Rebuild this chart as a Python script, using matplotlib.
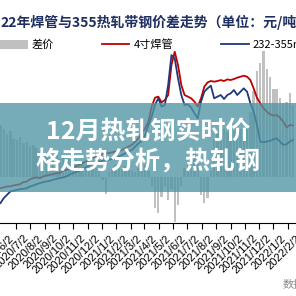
import matplotlib
matplotlib.use("Agg")
import matplotlib.pyplot as plt
import pandas as pd
from matplotlib.patches import Rectangle

plt.rcParams['font.family'] = ['Noto Sans CJK SC', 'DejaVu Sans']

# ====== DATA (weekly) ======
weeks = pd.date_range("2020-04-30", periods=90, freq="7D")

# 4寸焊管 price
weld = [3720, 3735, 3756, 3756, 3777, 3790, 3804, 3846, 3860, 3908,
        3930, 3943, 3930, 3964, 3985, 3999, 4012, 4033, 4033, 4082,
        4102, 4123, 4137, 4172, 4206, 4241, 4276, 4311, 4345, 4380,
        4415, 4428, 4449, 4449, 4470, 4484, 4498, 4519, 4553, 4588,
        4622, 4692, 4761, 4865, 4969, 5108, 5420, 5607, 5628, 5510,
        5558, 5662, 6286, 6564, 6286, 5870, 5662, 5628, 5593, 5524,
        5420, 5593, 5836, 5926, 5954, 5940, 5954, 5974, 5954, 5988,
        5974, 5995, 6023, 6044, 6064, 6044, 5974, 5801, 5607, 5489,
        5385, 5316, 5260, 5233, 5246, 5191, 5108, 4983, 5038, 5025]

# 232-355mm strip price
strip = [3409, 3513, 3582, 3652, 3666, 3686, 3700, 3707, 3721, 3756,
         3777, 3804, 3825, 3846, 3860, 3874, 3895, 3915, 3930, 3943,
         3964, 3999, 4033, 4054, 4082, 4123, 4151, 4193, 4220, 4262,
         4276, 4290, 4311, 4311, 4331, 4345, 4380, 4415, 4449, 4484,
         4519, 4588, 4657, 4706, 4830, 5038, 5212, 5454, 5593, 5420,
         5454, 5870, 6494, 6425, 6009, 5662, 5454, 5468, 5399, 5281,
         5177, 5524, 5732, 5801, 5857, 5593, 5628, 5662, 5579, 5662,
         5697, 5766, 5662, 5732, 5801, 5732, 5489, 5316, 5038, 4692,
         4678, 4692, 4706, 4740, 4761, 4692, 4622, 4636, 4692, 4727]

# 差价
spread = [340, 310, 280, 300, 250, 240, 260, 220, 230, 200,
          210, 190, 170, 180, 150, 160, 140, 150, 120, 130,
          140, 120, 100, 110, 90, 100, 80, 110, 90, 60,
          40, -20, -110, 30, 60, 80, 60, 50, 70, 60,
          40, 30, 60, 90, 80, 40, -60, -200, -236, -130,
          -60, -150, -80, -290, -180, -60, 60, 100, 120, 150,
          120, -120, -169, -137, 40, 250, 300, 280, 310, 290,
          260, 300, 330, 310, 290, 320, 420, 560, 690, 740,
          820, 700, 650, 570, 575, 515, 480, 490, 545, 470]

tick_labels = ["2020/6/2", "2020/7/2", "2020/8/2", "2020/9/2", "2020/10/2",
               "2020/11/2", "2020/12/2", "2021/1/2", "2021/2/2", "2021/3/2",
               "2021/4/2", "2021/5/2", "2021/6/2", "2021/7/2", "2021/8/2",
               "2021/9/2", "2021/10/2", "2021/11/2", "2021/12/2", "2022/1/2",
               "2022/2/2"]

title = "22年焊管与355热轧带钢价差走势（单位：元/吨）"
banner = ["12月热轧钢实时价", "格走势分析，热轧钢"]

# ====== CHART ======
fig = plt.figure(figsize=(2.96, 2.96), dpi=100)
ax = fig.add_axes([0, 0.2476, 1.06, 0.5834])  # runs past the right edge (cropped look)

bars = ax.bar(weeks, spread, width=5, color="#c0c0c0", label="差价")
ax.set_ylim(-297, 825)

ax2 = ax.twinx()
l1, = ax2.plot(weeks, weld, color="#c00000", lw=1.3, label="4寸焊管")
l2, = ax2.plot(weeks, strip, color="#1f3a7a", lw=1.3, label="232-355mm")
ax2.set_ylim(3000, 6600)

ax.set_xlim(pd.Timestamp("2020-04-29"), pd.Timestamp("2022-02-26"))
ax.set_xticks(pd.to_datetime(tick_labels, format="%Y/%m/%d"))
ax.set_xticklabels(tick_labels, rotation=45, ha="right", fontsize=8,
                   family=["Liberation Sans", "DejaVu Sans"])
ax.tick_params(axis="x", length=4, width=0.8, direction="out")
ax.tick_params(axis="y", left=False, labelleft=False)
ax2.tick_params(axis="y", right=False, labelright=False)
for a in (ax, ax2):
    for s in ("top", "left", "right"):
        a.spines[s].set_visible(False)
ax2.spines["bottom"].set_visible(False)
ax.spines["bottom"].set_linewidth(0.8)

fig.text(0, 1 - 22 / 296, title, ha="left", va="center", fontsize=10,
         fontweight="bold", color="#1f2f5f")

fig.legend(handles=[bars, l1, l2], loc="center left",
           bbox_to_anchor=(0, 1 - 45 / 296), ncol=3, frameon=False,
           fontsize=8, handlelength=2.5, handleheight=0.95,
           handletextpad=0.35, columnspacing=4.3, borderpad=0,
           borderaxespad=0)

# teal banner over the chart
fig.add_artist(Rectangle((0, 1 - 192 / 296), 1, 89 / 296,
                         transform=fig.transFigure, facecolor="#4f95a3",
                         alpha=0.78, edgecolor="none", zorder=5))
fig.text(0.5, 1 - 132 / 296, banner[0], ha="center", va="center", color="white",
         fontsize=18, fontweight="bold", zorder=6)
fig.text(0.5, 1 - 162 / 296, banner[1], ha="center", va="center", color="white",
         fontsize=18, fontweight="bold", zorder=6)

fig.text(283 / 296, 1 - 285 / 296, "数据来源", ha="left", va="center",
         fontsize=8, color="#888888")

fig.savefig("out.png", dpi=100)
